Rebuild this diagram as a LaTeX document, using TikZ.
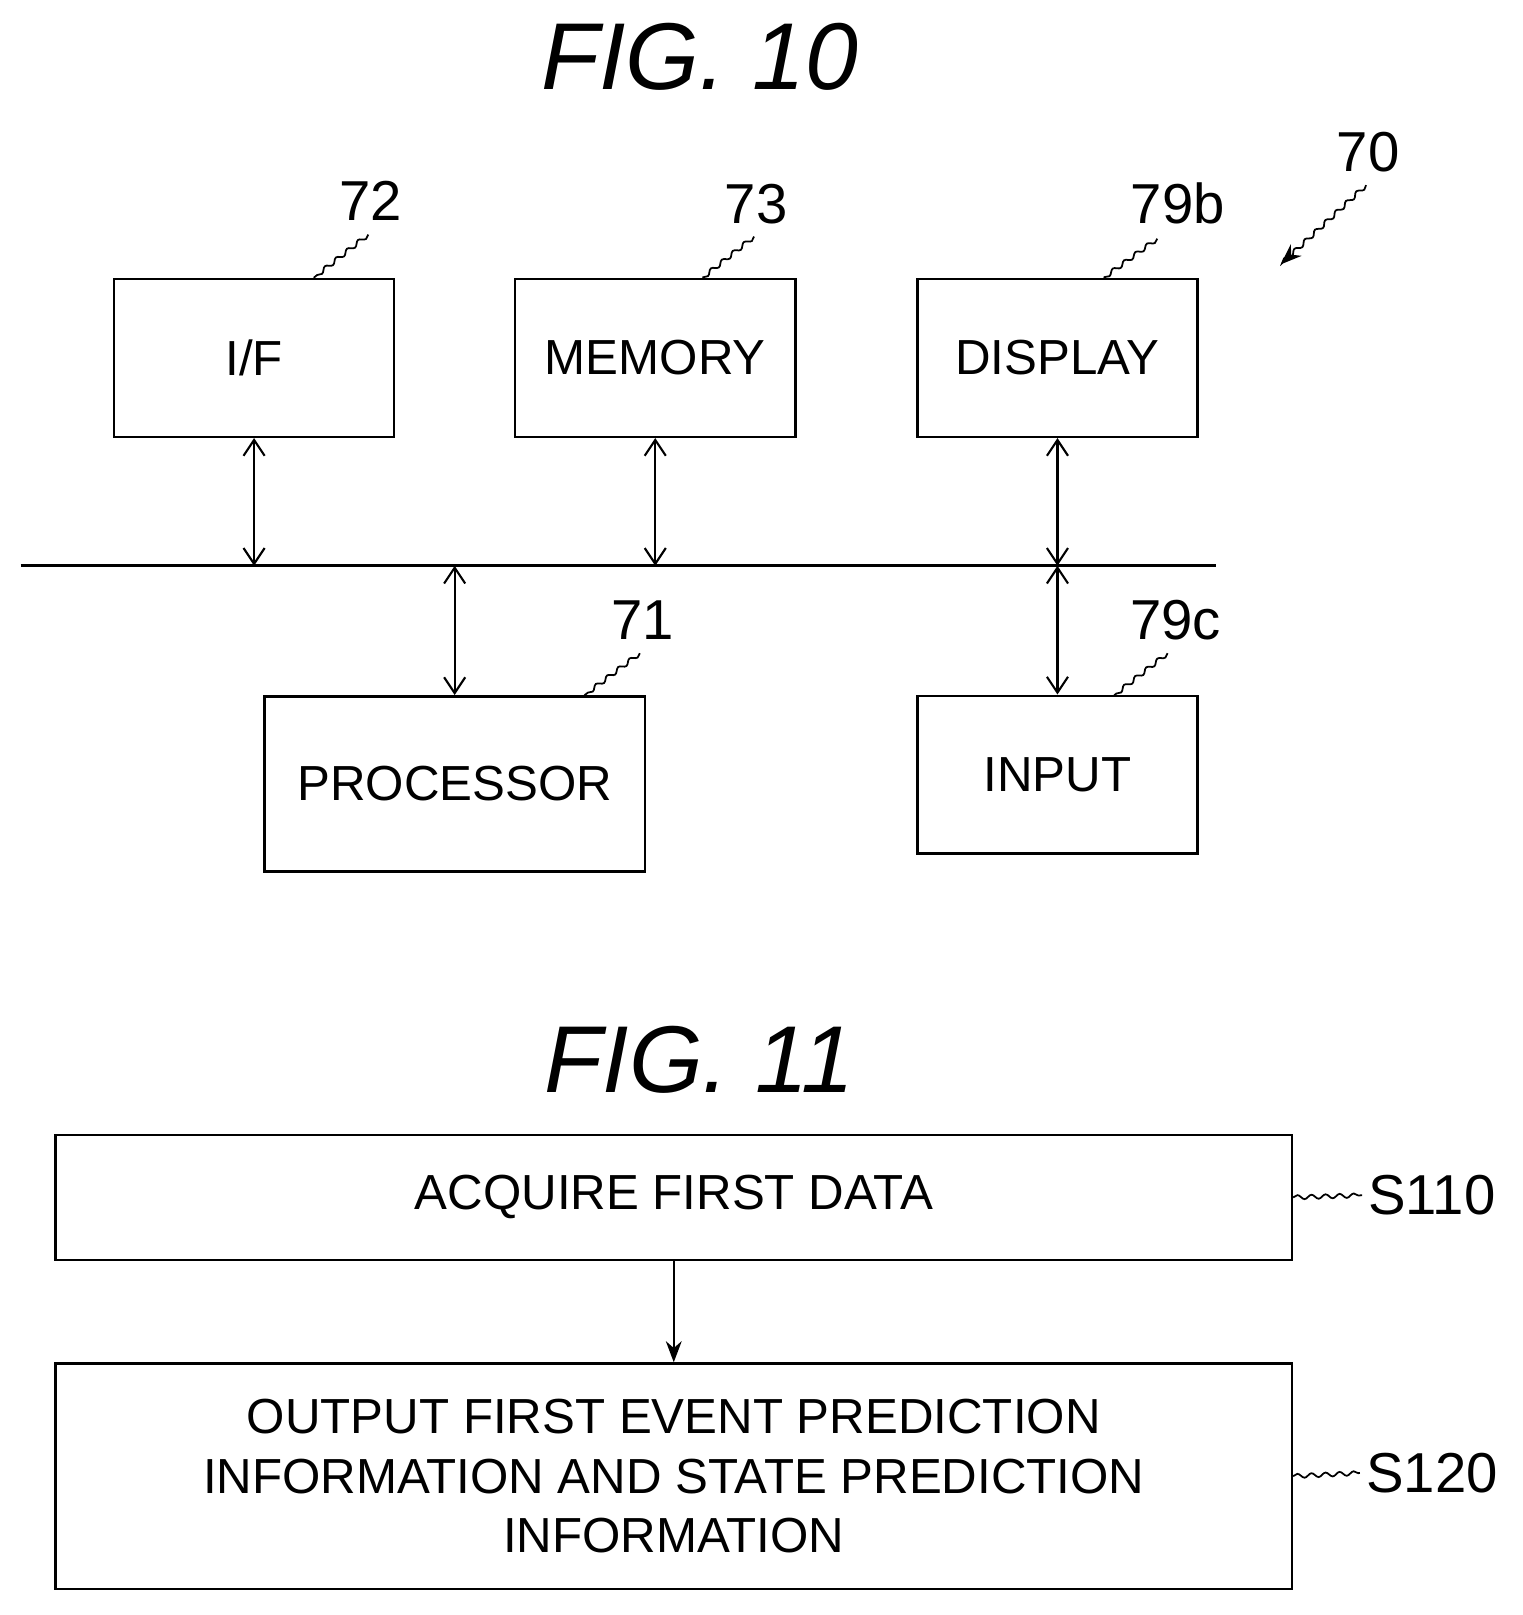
\documentclass[tikz,border=0pt]{standalone}
\usepackage{fontspec}
\setmainfont{Liberation Sans}
\usetikzlibrary{positioning,arrows.meta,decorations.pathmorphing}
\begin{document}
\begin{tikzpicture}[x=0.02056cm,y=-0.02056cm,
  blk/.style={rectangle, draw=black, line width=1.4pt, fill=white, align=center, font=\fontsize{28}{34}\selectfont},
  lbl/.style={font=\fontsize{32}{36}\selectfont},
  fig/.style={font=\fontsize{54}{60}\selectfont\itshape},
  lead/.style={decorate, decoration={snake, amplitude=1.2pt, segment length=8pt}, line width=1pt},
  bus/.style={{Straight Barb[length=9pt,width=12pt]}-{Straight Barb[length=9pt,width=12pt]}, line width=1.2pt}]

\useasboundingbox (0,0) rectangle (1480,1570);

% FIG. 10
\node[fig] (fig10) at (680,55) {FIG. 10};

\node[blk, minimum width=5.6cm, minimum height=3.15cm] (if) at (247,348) {I/F};
\node[blk, minimum width=5.6cm, minimum height=3.15cm] (mem) at (637,348) {MEMORY};
\node[blk, minimum width=5.6cm, minimum height=3.15cm] (disp) at (1028,348) {DISPLAY};
\node[blk, minimum width=7.6cm, minimum height=3.5cm] (proc) at (442,762) {PROCESSOR};
\node[blk, minimum width=5.6cm, minimum height=3.15cm] (inp) at (1028,753) {INPUT};

\coordinate (busl) at (20,550);
\coordinate (busr) at (1182,550);
\draw[line width=1.6pt] (busl) -- (busr);

\coordinate (b1) at (247,550);
\coordinate (b2) at (637,550);
\coordinate (b3) at (1028,550);
\coordinate (b4) at (442,550);
\draw[bus] (if) -- (b1);
\draw[bus] (mem) -- (b2);
\draw[bus] (disp) -- (b3);
\draw[bus] (b4) -- (proc);
\draw[bus] (b3) -- (inp);

\node[lbl] (n72) at (360,195) {72};
\node[lbl] (n73) at (735,198) {73};
\node[lbl] (n79b) at (1145,198) {79b};
\node[lbl] (n70) at (1330,148) {70};
\node[lbl] (n71) at (625,603) {71};
\node[lbl] (n79c) at (1143,603) {79c};

\draw[lead] (358,228) -- (305,270);
\draw[lead] (733,230) -- (683,270);
\draw[lead] (1125,232) -- (1073,270);
\draw[lead] (622,635) -- (568,676);
\draw[lead] (1135,635) -- (1083,676);
\coordinate (t70) at (1245,257);
\draw[lead, -{Stealth[length=12pt]}] (1328,180) -- (t70);

% FIG. 11
\node[fig] (fig11) at (680,1030) {FIG. 11};

\node[blk, minimum width=24.7cm, minimum height=2.5cm] (s110) at (655,1164) {ACQUIRE FIRST DATA};
\node[blk, minimum width=24.7cm, minimum height=4.5cm] (s120) at (655,1435)
  {OUTPUT FIRST EVENT PREDICTION\\INFORMATION AND STATE PREDICTION\\INFORMATION};
\draw[line width=1.2pt, -{Stealth[length=12pt]}] (s110) -- (s120);

\node[lbl] (n110) at (1392,1162) {S110};
\node[lbl] (n120) at (1392,1432) {S120};
\draw[lead] (s110.east) -- (n110.west);
\draw[lead] (s120.east) -- (n120.west);
\end{tikzpicture}
\end{document}
